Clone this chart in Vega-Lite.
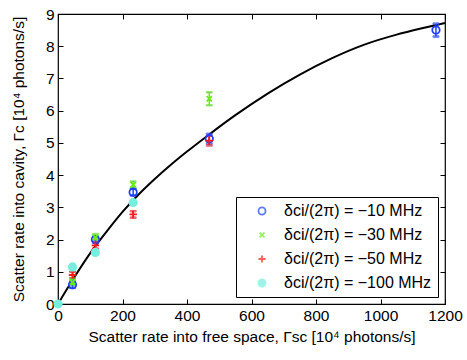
{
  "$schema": "https://vega.github.io/schema/vega-lite/v6.json",
  "width": 387,
  "height": 290,
  "autosize": "none",
  "padding": {"left": 58, "top": 14, "right": 22, "bottom": 56},
  "background": "white",
  "config": {
    "font": "Liberation Sans",
    "view": {"stroke": "black", "strokeWidth": 1.2},
    "axis": {
      "grid": false,
      "domain": false,
      "tickSize": -5,
      "tickColor": "black",
      "tickWidth": 1,
      "labelFontSize": 15.5,
      "labelColor": "black",
      "labelPadding": 9,
      "labelFlush": false,
      "titleFontSize": 15.5,
      "titleFontWeight": "normal",
      "titleColor": "black",
      "format": "d"
    }
  },
  "datasets": {
    "pts": [
      {"series": "δci/(2π) = −10 MHz", "x": 45, "y": 0.6, "err": 0.1},
      {"series": "δci/(2π) = −10 MHz", "x": 116, "y": 2.0, "err": 0.1},
      {"series": "δci/(2π) = −10 MHz", "x": 233, "y": 3.47, "err": 0.1},
      {"series": "δci/(2π) = −10 MHz", "x": 469, "y": 5.13, "err": 0.15},
      {"series": "δci/(2π) = −10 MHz", "x": 1172, "y": 8.5, "err": 0.2},
      {"series": "δci/(2π) = −30 MHz", "x": 45, "y": 0.68, "err": 0.1},
      {"series": "δci/(2π) = −30 MHz", "x": 116, "y": 2.07, "err": 0.1},
      {"series": "δci/(2π) = −30 MHz", "x": 233, "y": 3.7, "err": 0.1},
      {"series": "δci/(2π) = −30 MHz", "x": 469, "y": 6.37, "err": 0.2},
      {"series": "δci/(2π) = −50 MHz", "x": 45, "y": 0.9, "err": 0.1},
      {"series": "δci/(2π) = −50 MHz", "x": 116, "y": 1.82, "err": 0.1},
      {"series": "δci/(2π) = −50 MHz", "x": 233, "y": 2.78, "err": 0.1},
      {"series": "δci/(2π) = −50 MHz", "x": 469, "y": 5.07, "err": 0.15},
      {"series": "δci/(2π) = −100 MHz", "x": 0, "y": 0, "err": 0},
      {"series": "δci/(2π) = −100 MHz", "x": 45, "y": 1.15, "err": 0},
      {"series": "δci/(2π) = −100 MHz", "x": 116, "y": 1.6, "err": 0},
      {"series": "δci/(2π) = −100 MHz", "x": 233, "y": 3.15, "err": 0}
    ],
    "fit": [
      {"x": 0, "y": 0},
      {"x": 50, "y": 0.82},
      {"x": 100, "y": 1.58},
      {"x": 150, "y": 2.24},
      {"x": 200, "y": 2.86},
      {"x": 250, "y": 3.4},
      {"x": 300, "y": 3.88},
      {"x": 350, "y": 4.32},
      {"x": 400, "y": 4.73},
      {"x": 470, "y": 5.27},
      {"x": 550, "y": 5.86},
      {"x": 650, "y": 6.53},
      {"x": 750, "y": 7.12},
      {"x": 850, "y": 7.63},
      {"x": 950, "y": 8.05},
      {"x": 1050, "y": 8.36},
      {"x": 1125, "y": 8.55},
      {"x": 1200, "y": 8.72}
    ]
  },
  "layer": [
    {
      "data": {"name": "fit"},
      "mark": {"type": "line", "color": "black", "strokeWidth": 2, "interpolate": "monotone"},
      "encoding": {
        "x": {"field": "x", "type": "quantitative", "scale": {"domain": [0, 1200], "nice": false},
          "axis": {"values": [0, 200, 400, 600, 800, 1000, 1200], "title": "Scatter rate into free space, Γsc [10⁴ photons/s]", "titlePadding": 6}},
        "y": {"field": "y", "type": "quantitative", "scale": {"domain": [0, 9], "nice": false},
          "axis": {"values": [0, 1, 2, 3, 4, 5, 6, 7, 8, 9], "title": "Scatter rate into cavity, Γc [10⁴ photons/s]", "titlePadding": 19}}
      }
    },
    {
      "data": {"name": "fit"},
      "mark": {"type": "line", "opacity": 0},
      "encoding": {
        "x": {"field": "x", "type": "quantitative", "axis": {"orient": "top", "values": [0, 200, 400, 600, 800, 1000, 1200], "labels": false, "title": null}},
        "y": {"field": "y", "type": "quantitative", "axis": {"orient": "right", "values": [0, 1, 2, 3, 4, 5, 6, 7, 8, 9], "labels": false, "title": null}}
      }
    },
    {
      "data": {"name": "pts"},
      "transform": [{"filter": "datum.err > 0"}],
      "mark": {"type": "errorbar", "ticks": {"size": 6}, "thickness": 1.5},
      "encoding": {
        "x": {"field": "x", "type": "quantitative", "axis": null},
        "y": {"field": "y", "type": "quantitative", "axis": null},
        "yError": {"field": "err"},
        "stroke": {"field": "series", "type": "nominal",
          "scale": {"domain": ["δci/(2π) = −10 MHz", "δci/(2π) = −30 MHz", "δci/(2π) = −50 MHz", "δci/(2π) = −100 MHz"],
            "range": ["#1f3fff", "#66ee11", "#ff1a1a", "#77eedd"]}}
      }
    },
    {
      "data": {"name": "pts"},
      "mark": {"type": "point", "size": 55, "strokeWidth": 1.8, "opacity": 1},
      "encoding": {
        "x": {"field": "x", "type": "quantitative", "axis": null},
        "y": {"field": "y", "type": "quantitative", "axis": null},
        "stroke": {"field": "series", "type": "nominal",
          "scale": {"domain": ["δci/(2π) = −10 MHz", "δci/(2π) = −30 MHz", "δci/(2π) = −50 MHz", "δci/(2π) = −100 MHz"],
            "range": ["#1f3fff", "#66ee11", "#ff1a1a", "#77eedd"]},
          "legend": {"title": null, "orient": "none", "legendX": 178, "legendY": 183,
            "strokeColor": "black", "fillColor": "white", "padding": 6, "labelFontSize": 16, "labelColor": "black",
            "rowPadding": 8, "labelOffset": 14, "symbolOffset": 12, "symbolSize": 50, "symbolStrokeWidth": 1.8}},
        "fill": {"field": "series", "type": "nominal",
          "scale": {"domain": ["δci/(2π) = −10 MHz", "δci/(2π) = −30 MHz", "δci/(2π) = −50 MHz", "δci/(2π) = −100 MHz"],
            "range": ["transparent", "transparent", "transparent", "#77eedd"]}},
        "shape": {"field": "series", "type": "nominal",
          "scale": {"domain": ["δci/(2π) = −10 MHz", "δci/(2π) = −30 MHz", "δci/(2π) = −50 MHz", "δci/(2π) = −100 MHz"],
            "range": ["circle", "M-0.7,-0.7L0.7,0.7M-0.7,0.7L0.7,-0.7", "M-1,0L1,0M0,-1L0,1", "circle"]}}
      }
    }
  ],
  "resolve": {"axis": {"x": "independent", "y": "independent"}}
}
